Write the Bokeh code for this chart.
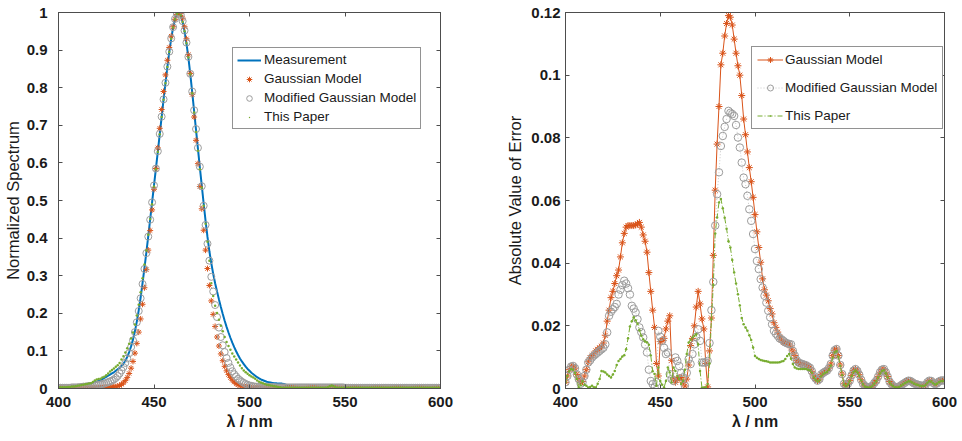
from bokeh.plotting import figure
from bokeh.layouts import row
from bokeh.models import (FixedTicker, LinearAxis, Range1d, CustomJSTickFormatter,
                          Legend, LegendItem)
from bokeh.embed import file_html
from bokeh.resources import INLINE

# ---------------- data ----------------
wavelength = list(range(400, 601))

measurement = [
    .003, .003, .003, .003, .003, .004, .004, .005, .005, .006,
    .007, .008, .009, .010, .011, .012, .013, .014, .015, .017,
    .018, .020, .022, .025, .028, .031, .034, .037, .040, .043,
    .047, .051, .055, .060, .066, .074, .084, .097, .112, .130,
    .152, .178, .208, .242, .280, .320, .362, .405, .450, .495,
    .540, .585, .630, .676, .722, .768, .812, .855, .895, .930,
    .960, .982, .996, 1.000, .993, .975, .950, .918, .880, .836,
    .788, .738, .688, .638, .588, .540, .492, .446, .403, .365,
    .333, .305, .280, .258, .237, .217, .198, .180, .164, .149,
    .135, .122, .110, .099, .089, .080, .072, .065, .058, .052,
    .047, .042, .038, .034, .030, .027, .024, .022, .020, .018,
    .017, .016, .015, .014, .014, .013, .013, .013, .012, .010,
    .008, .006, .005, .004, .004, .003, .003, .003, .003, .003,
    .003, .003, .003, .003, .003, .003, .003, .003, .003, .003,
    .003, .004, .007, .009, .007, .004, .003, .003, .003, .003,
    .003, .003, .003, .003, .003, .003, .003, .002, .002, .002,
    .002, .002, .002, .002, .002, .002, .002, .002, .002, .002,
    .002, .002, .002, .002, .002, .002, .002, .002, .002, .002,
    .002, .002, .002, .002, .002, .002, .002, .002, .002, .002,
    .002, .002, .002, .002, .002, .002, .002, .002, .002, .002,
    .002,
]

gaussian_model = [
    .001, .001, .001, .001, .001, .001, .001, .001, .001, .001,
    .001, .001, .001, .001, .001, .002, .002, .002, .002, .002,
    .002, .002, .002, .002, .003, .003, .003, .003, .004, .004,
    .005, .006, .008, .011, .015, .021, .029, .040, .054, .072,
    .094, .120, .150, .185, .224, .268, .316, .368, .420, .475,
    .530, .585, .640, .692, .742, .790, .834, .873, .907, .937,
    .962, .982, .995, 1.000, .997, .985, .962, .930, .888, .838,
    .782, .722, .660, .598, .537, .478, .421, .368, .319, .274,
    .233, .197, .165, .137, .113, .092, .074, .059, .047, .037,
    .029, .022, .017, .013, .010, .008, .006, .005, .004, .003,
    .003, .002, .002, .002, .002, .002, .002, .001, .001, .001,
    .001, .001, .001, .001, .001, .001, .001, .001, .001, .001,
    .001, .001, .001, .001, .001, .001, .001, .001, .001, .001,
    .001, .001, .001, .001, .001, .001, .001, .001, .001, .001,
    .001, .001, .001, .001, .001, .001, .001, .001, .001, .001,
    .001, .001, .001, .001, .001, .001, .001, .001, .001, .001,
    .001, .001, .001, .001, .001, .001, .001, .001, .001, .001,
    .001, .001, .001, .001, .001, .001, .001, .001, .001, .001,
    .001, .001, .001, .001, .001, .001, .001, .001, .001, .001,
    .001, .001, .001, .001, .001, .001, .001, .001, .001, .001,
    .001,
]

modified_model = [
    .002, .002, .002, .002, .002, .002, .002, .003, .003, .003,
    .003, .004, .004, .005, .005, .006, .006, .007, .007, .008,
    .009, .010, .011, .012, .013, .015, .017, .019, .021, .024,
    .028, .033, .040, .048, .057, .068, .080, .094, .110, .128,
    .150, .176, .206, .240, .278, .318, .360, .404, .449, .495,
    .540, .585, .631, .677, .723, .769, .813, .856, .896, .931,
    .961, .983, .996, 1.000, .994, .977, .952, .920, .882, .837,
    .790, .740, .690, .640, .590, .538, .486, .435, .385, .340,
    .297, .258, .222, .190, .162, .137, .115, .097, .081, .068,
    .056, .046, .038, .032, .026, .022, .018, .015, .012, .010,
    .008, .007, .006, .005, .005, .004, .004, .004, .004, .004,
    .004, .004, .004, .004, .003, .003, .003, .003, .003, .003,
    .003, .003, .003, .003, .003, .003, .003, .003, .003, .003,
    .003, .003, .003, .003, .003, .003, .003, .003, .003, .003,
    .003, .003, .003, .003, .003, .003, .003, .003, .003, .003,
    .002, .002, .002, .002, .002, .002, .002, .002, .002, .002,
    .002, .002, .002, .002, .002, .002, .002, .002, .002, .002,
    .002, .002, .002, .002, .002, .002, .002, .002, .002, .002,
    .002, .002, .002, .002, .002, .002, .002, .002, .002, .002,
    .002, .002, .002, .002, .002, .002, .002, .002, .002, .002,
    .002,
]

this_paper_model = [
    .003, .003, .003, .003, .003, .004, .004, .005, .005, .006,
    .007, .008, .009, .010, .011, .012, .013, .014, .017, .021,
    .024, .025, .026, .029, .031, .035, .040, .045, .049, .053,
    .058, .062, .068, .077, .086, .096, .107, .119, .133, .149,
    .170, .194, .223, .256, .293, .330, .367, .409, .451, .490,
    .537, .583, .629, .676, .722, .768, .812, .855, .895, .930,
    .960, .982, .996, 1.000, .993, .975, .950, .918, .880, .836,
    .785, .734, .682, .632, .583, .534, .486, .438, .390, .340,
    .280, .246, .220, .201, .183, .167, .152, .137, .124, .113,
    .103, .093, .085, .077, .069, .061, .054, .048, .043, .039,
    .035, .032, .029, .026, .021, .018, .016, .014, .012, .010,
    .009, .008, .007, .006, .005, .004, .003, .002, .002, .002,
    .002, .002, .002, .002, .002, .002, .002, .002, .002, .002,
    .002, .002, .002, .002, .002, .002, .002, .002, .002, .002,
    .002, .003, .006, .008, .006, .003, .002, .002, .002, .002,
    .002, .002, .002, .002, .002, .002, .002, .002, .002, .002,
    .002, .002, .002, .002, .002, .002, .002, .002, .002, .002,
    .002, .002, .002, .002, .002, .002, .002, .002, .002, .002,
    .002, .002, .002, .002, .002, .002, .002, .002, .002, .002,
    .002, .002, .002, .002, .002, .002, .002, .002, .002, .002,
    .002,
]

gaussian_error = [
    .002, .004, .006, .007, .0072, .0065, .0045, .003, .002, .0022,
    .004, .006, .0085, .0098, .0105, .011, .012, .0125, .013, .0135,
    .0145, .017, .0215, .025, .029, .031, .0335, .036, .0378, .042,
    .0465, .0495, .0515, .052, .052, .052, .052, .0522, .0525, .053,
    .0515, .049, .047, .0435, .037, .031, .025, .0195, .008, .004,
    .015, .0153, .016, .019, .0215, .0232, .009, .003, .002, .003,
    .0035, .0035, .002, .0008, .003, .0075, .0137, .016, .020, .026,
    .031, .027, .0222, .019, .008, .0005, .012, .0225, .0425, .0633,
    .078, .090, .1033, .107, .1125, .1165, .119, .1185, .116, .1115,
    .107, .103, .100, .0935, .086, .081, .0755, .0705, .066, .061,
    .0555, .050, .045, .0403, .035, .0315, .0298, .028, .0255, .0238,
    .021, .0195, .018, .0165, .0155, .0147, .0145, .0145, .0142, .013,
    .012, .0105, .009, .0083, .008, .0078, .0076, .0074, .007, .0066,
    .0055, .004, .0032, .0025, .003, .0045, .005, .0054, .0057, .0065,
    .0078, .0105, .0122, .0126, .0105, .0075, .0046, .0015, .0009, .0015,
    .0025, .0042, .0057, .0062, .0056, .0044, .0028, .0015, .0008, .0005,
    .0003, .0004, .001, .0018, .0025, .0038, .0052, .006, .0062, .0052,
    .0038, .0022, .0014, .0008, .0004, .0003, .0006, .001, .0014, .0018,
    .0022, .0025, .0024, .002, .0016, .0014, .0012, .001, .0009, .0009,
    .0012, .002, .0025, .0024, .0018, .0014, .0016, .0022, .0025, .0026,
    .0025,
]

modified_error = [
    .002, .004, .006, .007, .0072, .0065, .0045, .003, .0015, .002,
    .004, .006, .0083, .009, .0099, .0105, .011, .0115, .012, .0125,
    .013, .0141, .0179, .0232, .0245, .0253, .026, .027, .030, .0315,
    .033, .0344, .0335, .032, .030, .0264, .0255, .0243, .0221, .0195,
    .018, .0163, .014, .0115, .006, .0024, .0014, .0003, .002, .0184,
    .0165, .0152, .013, .011, .0115, .0046, .003, .0024, .0099, .0088,
    .0072, .005, .0035, .0009, .005, .0094, .0078, .011, .0141, .0165,
    .0189, .0152, .0083, .0083, .0083, .0088, .0145, .025, .034, .052,
    .062, .069, .0774, .0806, .0835, .086, .0886, .088, .0876, .087,
    .0841, .0801, .0769, .0721, .0673, .0652, .0615, .0572, .0535, .0493,
    .0445, .0407, .0381, .0349, .0322, .0296, .0274, .0248, .0227, .0205,
    .0184, .0175, .0168, .016, .0157, .0152, .0147, .0144, .0142, .0141,
    .012, .0105, .009, .0083, .008, .0078, .0076, .0074, .007, .0066,
    .0055, .004, .0032, .0025, .003, .0045, .005, .0054, .0057, .0065,
    .0078, .0105, .0122, .0126, .0105, .0075, .0046, .0015, .0009, .0015,
    .0025, .0042, .0057, .0062, .0056, .0044, .0028, .0015, .0008, .0005,
    .0003, .0004, .001, .0018, .0025, .0038, .0052, .006, .0062, .0052,
    .0038, .0022, .0014, .0008, .0004, .0003, .0006, .001, .0014, .0018,
    .0022, .0025, .0024, .002, .0016, .0014, .0012, .001, .0009, .0009,
    .0012, .002, .0025, .0024, .0018, .0014, .0016, .0022, .0025, .0026,
    .0025,
]

this_paper_error = [
    .002, .004, .0055, .0062, .006, .005, .003, .0003, .001, .0024,
    .0012, .0009, .0003, .0005, .0009, .0004, .0003, .0015, .003, .0056,
    .0054, .0051, .0045, .004, .0035, .0045, .0056, .0075, .0088, .0094,
    .0102, .0106, .0125, .016, .0198, .0215, .0227, .0218, .0207, .0186,
    .0168, .0157, .015, .0147, .014, .0105, .0055, .0046, .0009, .0067,
    .0024, .0012, .0003, .0024, .0067, .0051, .0019, .0067, .0056, .004,
    .003, .0014, .0024, .006, .011, .0147, .0155, .0163, .0168, .0173,
    .0141, .0056, .0003, .0003, .0003, .0014, .008, .022, .033, .0495,
    .0546, .0594, .0605, .0575, .0545, .051, .047, .045, .041, .037,
    .0335, .0301, .0265, .0225, .0205, .0195, .0184, .017, .0155, .0131,
    .0104, .0098, .0094, .0091, .0089, .0088, .0087, .0085, .0083, .0083,
    .0083, .0083, .0083, .0084, .0086, .0088, .0094, .0104, .011, .0095,
    .0078, .0067, .0064, .0062, .0062, .0062, .0062, .0062, .006, .0058,
    .005, .0036, .0028, .0022, .0026, .004, .0046, .005, .0053, .006,
    .0073, .0098, .0115, .012, .01, .0072, .0042, .0013, .0007, .0013,
    .0023, .0039, .0053, .0058, .0052, .0041, .0026, .0013, .0006, .0004,
    .0003, .0004, .0009, .0016, .0023, .0035, .0048, .0056, .0058, .0049,
    .0035, .002, .0012, .0007, .0004, .0003, .0005, .0009, .0013, .0017,
    .002, .0023, .0022, .0019, .0015, .0013, .0011, .0009, .0008, .0008,
    .0011, .0018, .0023, .0022, .0017, .0013, .0015, .002, .0023, .0024,
    .0023,
]

x_ticks = [400, 450, 500, 550, 600]
left_y_ticks = [0, 0.1, 0.2, 0.3, 0.4, 0.5, 0.6, 0.7, 0.8, 0.9, 1.0]
right_y_ticks = [0, 0.02, 0.04, 0.06, 0.08, 0.10, 0.12]

x_title = "λ / nm"
left_y_title = "Normalized Spectrum"
right_y_title = "Absolute Value of Error"
names = ["Measurement", "Gaussian Model", "Modified Gaussian Model", "This Paper"]

# ---------------- styling ----------------
FONT = "Liberation Sans"
BLUE = "#0072BD"
ORANGE = "#D95319"
GRAY = "#9c9c9c"
GREEN = "#77AC30"
AX = "#4d4d4d"
TXT = "#1a1a1a"

yfmt = CustomJSTickFormatter(code="return tick == 0 ? '0' : String(Math.round(tick*1000)/1000);")


def box_axis(ticks):
    return LinearAxis(ticker=FixedTicker(ticks=ticks),
                      formatter=CustomJSTickFormatter(code="return '';"),
                      major_label_standoff=0, major_tick_in=4, major_tick_out=0,
                      minor_tick_line_color=None, axis_line_color=AX, major_tick_line_color=AX)


def make_fig(y_end, yticks, ytitle, min_left, min_right, ylab_standoff, ytick_standoff):
    p = figure(width=481, height=441, x_range=Range1d(400, 600), y_range=Range1d(0, y_end),
               output_backend="svg", toolbar_location=None,
               min_border_left=min_left, min_border_right=min_right,
               min_border_top=12, min_border_bottom=53)
    p.grid.visible = False
    p.outline_line_color = AX
    p.outline_line_width = 1
    p.background_fill_color = "white"
    p.border_fill_color = "white"

    xa = p.xaxis[0]
    xa.ticker = FixedTicker(ticks=x_ticks)
    xa.axis_label = x_title
    xa.axis_label_text_font = FONT
    xa.axis_label_text_font_size = "16px"
    xa.axis_label_text_font_style = "bold"
    xa.axis_label_text_color = TXT
    xa.axis_label_standoff = 3
    xa.major_label_standoff = 8

    ya = p.yaxis[0]
    ya.ticker = FixedTicker(ticks=yticks)
    ya.formatter = yfmt
    ya.axis_label = ytitle
    ya.axis_label_text_font = FONT
    ya.axis_label_text_font_size = "16.5px"
    ya.axis_label_text_font_style = "normal"
    ya.axis_label_text_color = TXT
    ya.axis_label_standoff = ylab_standoff
    ya.major_label_standoff = ytick_standoff

    for a in (xa, ya):
        a.major_label_text_font = FONT
        a.major_label_text_font_size = "15px"
        a.major_label_text_font_style = "bold"
        a.major_label_text_color = TXT
        a.major_tick_in = 4
        a.major_tick_out = 0
        a.minor_tick_line_color = None
        a.axis_line_color = AX
        a.major_tick_line_color = AX

    # box ticks on top and right (MATLAB "box on")
    p.add_layout(box_axis(x_ticks), "above")
    p.add_layout(box_axis(yticks), "right")
    return p


def style_legend(lg):
    lg.label_text_font = FONT
    lg.label_text_font_size = "13.5px"
    lg.label_text_color = TXT
    lg.border_line_color = "#262626"
    lg.border_line_width = 1
    lg.background_fill_color = "white"
    lg.background_fill_alpha = 1
    lg.margin = 0


# ---------------- left: spectra ----------------
p1 = make_fig(1.0, left_y_ticks, left_y_title, 56, 41, 2, 11)
r_meas = p1.line(wavelength, measurement, line_color=BLUE, line_width=2)
r_g = p1.scatter(wavelength, gaussian_model, marker="asterisk", size=6, line_color=ORANGE, line_width=1)
r_m = p1.scatter(wavelength, modified_model, marker="circle", size=7, fill_color=None,
                 line_color=GRAY, line_width=1)
r_t = p1.scatter(wavelength, this_paper_model, marker="dot", size=10, line_color=GREEN,
                 fill_color=GREEN)

lg1 = Legend(items=[LegendItem(label=names[0], renderers=[r_meas]),
                    LegendItem(label=names[1], renderers=[r_g]),
                    LegendItem(label=names[2], renderers=[r_m]),
                    LegendItem(label=names[3], renderers=[r_t])],
             location=(174, 259))
style_legend(lg1)
lg1.glyph_width = 24
lg1.glyph_height = 14
lg1.label_height = 14
lg1.spacing = 4
lg1.padding = 4
lg1.label_standoff = 3
p1.add_layout(lg1)

# ---------------- right: absolute errors ----------------
p2 = make_fig(0.12, right_y_ticks, right_y_title, 84, 18, 4, 5)
g_line = p2.line(wavelength, gaussian_error, line_color=ORANGE, line_width=1)
g_pts = p2.scatter(wavelength, gaussian_error, marker="asterisk", size=7, line_color=ORANGE, line_width=1)
m_line = p2.line(wavelength, modified_error, line_color="#c8c8c8", line_width=1, line_dash="1 2")
m_pts = p2.scatter(wavelength, modified_error, marker="circle", size=7.5, fill_color=None,
                   line_color=GRAY, line_width=1)
t_line = p2.line(wavelength, this_paper_error, line_color=GREEN, line_width=1, line_dash="5 2 1 2")
t_pts = p2.scatter(wavelength, this_paper_error, marker="dot", size=10, line_color=GREEN,
                   fill_color=GREEN)

lg2 = Legend(items=[LegendItem(label=names[1], renderers=[g_line, g_pts]),
                    LegendItem(label=names[2], renderers=[m_line, m_pts]),
                    LegendItem(label=names[3], renderers=[t_line, t_pts])],
             location=(186, 259))
style_legend(lg2)
lg2.glyph_width = 26
lg2.glyph_height = 15
lg2.label_height = 15
lg2.spacing = 13
lg2.padding = 5
lg2.label_standoff = 2
p2.add_layout(lg2)

layout = row(p1, p2)
open("out.html", "w").write(file_html(layout, INLINE))
